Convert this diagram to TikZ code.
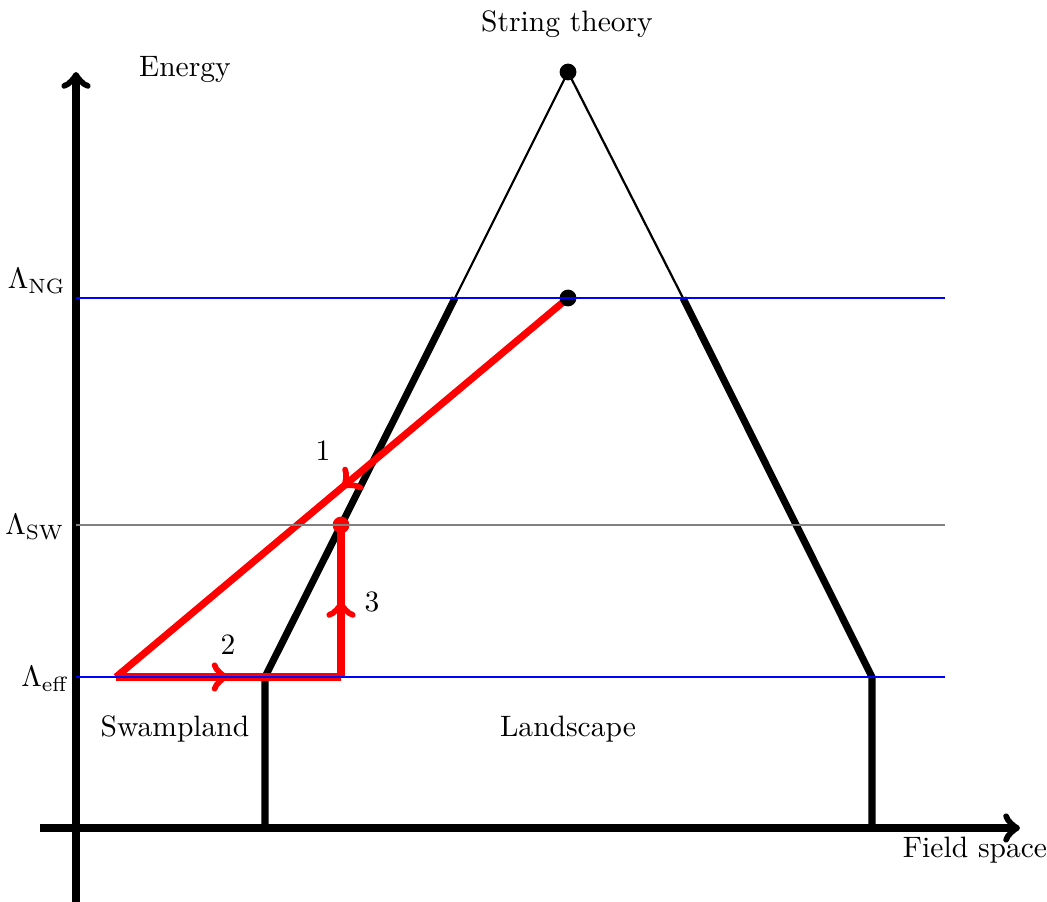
\documentclass[tikz,border=0pt]{standalone}
\usepackage{amsmath}
\usepackage{tikz}
\usetikzlibrary{arrows.meta,decorations.markings}

\begin{document}
\begin{tikzpicture}[x=0.011905cm,y=-0.011905cm,
  axis/.style={-{to[scale=0.68]},line width=2.4pt},
  wall/.style={line width=2.4pt},
  peak/.style={line width=0.75pt},
  cutoff/.style={line width=0.85pt},
  flow/.style={draw=red,line width=2.4pt,
    decoration={markings,mark=at position 0.5 with {\arrow{to[scale=0.72]}}},
    postaction={decorate}},
  dot/.style={circle,fill=black,inner sep=0pt,minimum size=0.2cm},
  reddot/.style={dot,fill=red},
  lam/.style={anchor=east,inner sep=2pt}
]
  \useasboundingbox (0,0) rectangle (1047,902);

  % axes
  \coordinate (xstart) at (40,828);
  \coordinate (xend) at (1020,828);
  \coordinate (ystart) at (76,902);
  \coordinate (yend) at (76,72);
  \draw[axis] (xstart) -- (xend);
  \draw[axis] (ystart) -- (yend);

  % landscape boundary
  \coordinate (lfoot) at (265,828);
  \coordinate (lknee) at (265,677);
  \coordinate (lcut) at (455,298);
  \coordinate (rfoot) at (872,828);
  \coordinate (rknee) at (872,677);
  \coordinate (rcut) at (683,298);
  \node[dot] (apex) at (568,72) {};
  \draw[wall] (lfoot) -- (lknee) -- (lcut);
  \draw[wall] (rfoot) -- (rknee) -- (rcut);
  \draw[peak] (lcut) -- (apex.center) -- (rcut);

  % flow 1-2-3
  \coordinate (ngpt) at (568,298);
  \coordinate (swleft) at (116,677);
  \coordinate (swcorner) at (341,677);
  \coordinate (swpt) at (341,525);
  \draw[flow] (ngpt) -- (swleft);
  \draw[flow] (swleft) -- (swcorner);
  \draw[flow] (swcorner) -- (swpt);
  \node[reddot] (swdot) at (swpt) {};
  \node[dot] (ngdot) at (ngpt) {};

  % scales
  \coordinate (ngl) at (76,298);
  \coordinate (ngr) at (945,298);
  \coordinate (swl) at (76,525);
  \coordinate (swr) at (945,525);
  \coordinate (effl) at (76,677);
  \coordinate (effr) at (945,677);
  \draw[cutoff,blue] (ngl) -- (ngr);
  \draw[cutoff,gray] (swl) -- (swr);
  \draw[cutoff,blue] (effl) -- (effr);

  \node[lam] (lamng) at (72,281) {$\Lambda_{\mathrm{NG}}$};
  \node[lam] (lamsw) at (71,527) {$\Lambda_{\mathrm{SW}}$};
  \node[lam] (lameff) at (76,679) {$\Lambda_{\mathrm{eff}}$};

  \node (energy) at (185,70) {Energy};
  \node (string) at (567,24) {String theory};
  \node (field) at (975,850) {Field space};
  \node (swamp) at (175,729) {Swampland};
  \node (land) at (568,729) {Landscape};

  \node (one) at (323,451) {1};
  \node (two) at (228,645) {2};
  \node (three) at (372,602) {3};
\end{tikzpicture}
\end{document}
